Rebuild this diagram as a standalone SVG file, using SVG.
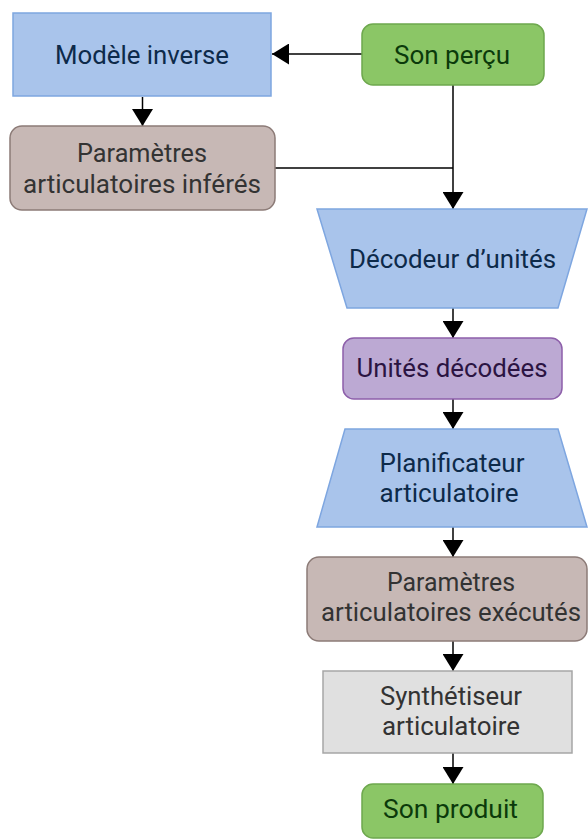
<svg xmlns="http://www.w3.org/2000/svg" width="588" height="840" viewBox="0 0 588 840">
<style>
text{font-family:Roboto,"Liberation Sans",sans-serif;font-size:26px;text-anchor:middle}
.blue{fill:#A9C4EB;stroke:#7EA6E0;stroke-width:1.5}
.green{fill:#8BC666;stroke:#6EA84E;stroke-width:1.5}
.brown{fill:#C7B8B5;stroke:#8C7B77;stroke-width:1.5}
.purple{fill:#BCA9D3;stroke:#8D5FAA;stroke-width:1.5}
.gray{fill:#E0E0E0;stroke:#A6A6A6;stroke-width:1.5}
.tb{fill:#0D2A4A}.tg{fill:#0B3A0B}.tr{fill:#333333}.tp{fill:#2B1442}
.c{fill:none;stroke:#000;stroke-width:1.5}
.a{marker-end:url(#arr)}
</style>
<defs>
<marker id="arr" markerUnits="userSpaceOnUse" markerWidth="17" markerHeight="21" viewBox="0 0 17 21" refX="17" refY="10.5" orient="auto">
<path d="M0,0 L17,10.5 L0,21 z" fill="#000"/>
</marker>
</defs>
<g id="connectors">
<path class="c a" d="M362,54 H272"/>
<path class="c a" d="M142.5,97 V126"/>
<path class="c a" d="M453,85 V209"/>
<path class="c" d="M275,168 H453"/>
<path class="c a" d="M453,308 V338"/>
<path class="c a" d="M453,399 V429"/>
<path class="c a" d="M453,527 V557"/>
<path class="c a" d="M453,641 V671"/>
<path class="c a" d="M453,753 V784"/>
</g>
<g id="modele-inverse">
<rect class="blue" x="13" y="13" width="258" height="83"/>
<text class="tb" x="142" y="64" textLength="174" lengthAdjust="spacingAndGlyphs">Modèle inverse</text>
</g>
<g id="son-percu">
<rect class="green" x="362" y="24" width="182" height="61" rx="11"/>
<text class="tg" x="452" y="64" textLength="116" lengthAdjust="spacingAndGlyphs">Son perçu</text>
</g>
<g id="parametres-inferes">
<rect class="brown" x="10" y="126" width="265" height="84" rx="12"/>
<text class="tr" x="142" y="162" textLength="130" lengthAdjust="spacingAndGlyphs">Paramètres</text>
<text class="tr" x="142" y="193" textLength="238" lengthAdjust="spacingAndGlyphs">articulatoires inférés</text>
</g>
<g id="decodeur">
<path class="blue" d="M317,209 H587 L558,308 H347 Z"/>
<text class="tb" x="452.5" y="268" textLength="207" lengthAdjust="spacingAndGlyphs">Décodeur d’unités</text>
</g>
<g id="unites-decodees">
<rect class="purple" x="343" y="338" width="219" height="61" rx="11"/>
<text class="tp" x="452" y="377" textLength="191" lengthAdjust="spacingAndGlyphs">Unités décodées</text>
</g>
<g id="planificateur">
<path class="blue" d="M345,429 H558 L587,527 H317 Z"/>
<text class="tb" x="452" y="472" textLength="145" lengthAdjust="spacingAndGlyphs">Planificateur</text>
<text class="tb" x="449" y="502" textLength="139" lengthAdjust="spacingAndGlyphs">articulatoire</text>
</g>
<g id="parametres-executes">
<rect class="brown" x="307" y="557" width="280" height="84" rx="12"/>
<text class="tr" x="451" y="591" textLength="128" lengthAdjust="spacingAndGlyphs">Paramètres</text>
<text class="tr" x="451" y="621" textLength="260" lengthAdjust="spacingAndGlyphs">articulatoires exécutés</text>
</g>
<g id="synthetiseur">
<rect class="gray" x="323" y="671" width="249" height="82"/>
<text class="tr" x="451" y="705" textLength="142" lengthAdjust="spacingAndGlyphs">Synthétiseur</text>
<text class="tr" x="451" y="735" textLength="138" lengthAdjust="spacingAndGlyphs">articulatoire</text>
</g>
<g id="son-produit">
<rect class="green" x="362" y="784" width="181" height="54" rx="11"/>
<text class="tg" x="450.5" y="818" textLength="135" lengthAdjust="spacingAndGlyphs">Son produit</text>
</g>
</svg>
